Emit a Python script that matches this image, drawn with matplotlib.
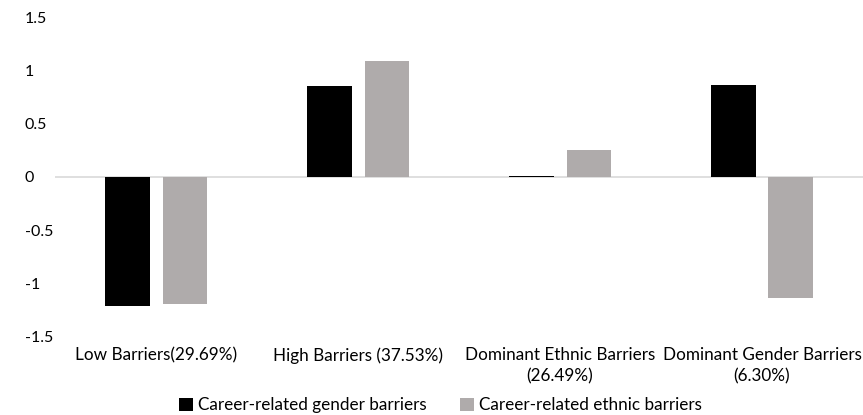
import matplotlib
matplotlib.use('Agg')
import matplotlib.pyplot as plt
import numpy as np

categories = ['Low Barriers(29.69%)', 'High Barriers (37.53%)',
              'Dominant Ethnic Barriers\n(26.49%)', 'Dominant Gender Barriers\n(6.30%)']
gender = [-1.215, 0.86, 0.006, 0.87]
ethnic = [-1.20, 1.09, 0.25, -1.145]
yticks = [-1.5, -1, -0.5, 0, 0.5, 1, 1.5]
ytick_labels = ['-1.5', '-1', '-0.5', '0', '0.5', '1', '1.5']

C_GENDER, C_ETHNIC = '#000000', '#AFABAB'

plt.rcParams['font.family'] = ['Lato', 'DejaVu Sans']
fig = plt.figure(figsize=(8.63, 4.15), dpi=100)
ax = fig.add_axes([0.064, 0.19, 0.936, 0.767])

x = np.arange(len(categories))
w = 0.222
off = 0.143
ax.bar(x - off, gender, w, color=C_GENDER, label='Career-related gender barriers', zorder=3)
ax.bar(x + off, ethnic, w, color=C_ETHNIC, label='Career-related ethnic barriers', zorder=3)

ax.set_xlim(-0.5, len(categories) - 0.5)
ax.set_ylim(-1.5, 1.5)
ax.set_yticks(yticks)
ax.set_yticklabels(ytick_labels)
ax.axhline(0, color='#D9D9D9', lw=1.2, zorder=2)

for s in ax.spines.values():
    s.set_visible(False)
ax.tick_params(axis='both', length=0, labelsize=11.5, colors='#000000')
ax.tick_params(axis='y', pad=22)
ax.set_xticks(x)
ax.set_xticklabels(categories, fontsize=12.3, linespacing=1.35)
ax.tick_params(axis='x', pad=8)
for lbl in ax.get_yticklabels():
    lbl.set_horizontalalignment('left')

ax.legend(loc='lower center', bbox_to_anchor=(0.477, -0.29), ncol=2, frameon=False,
          fontsize=12.3, handlelength=0.8, handleheight=0.8, handletextpad=0.3,
          columnspacing=2.0)

plt.savefig('out.png', dpi=100)
